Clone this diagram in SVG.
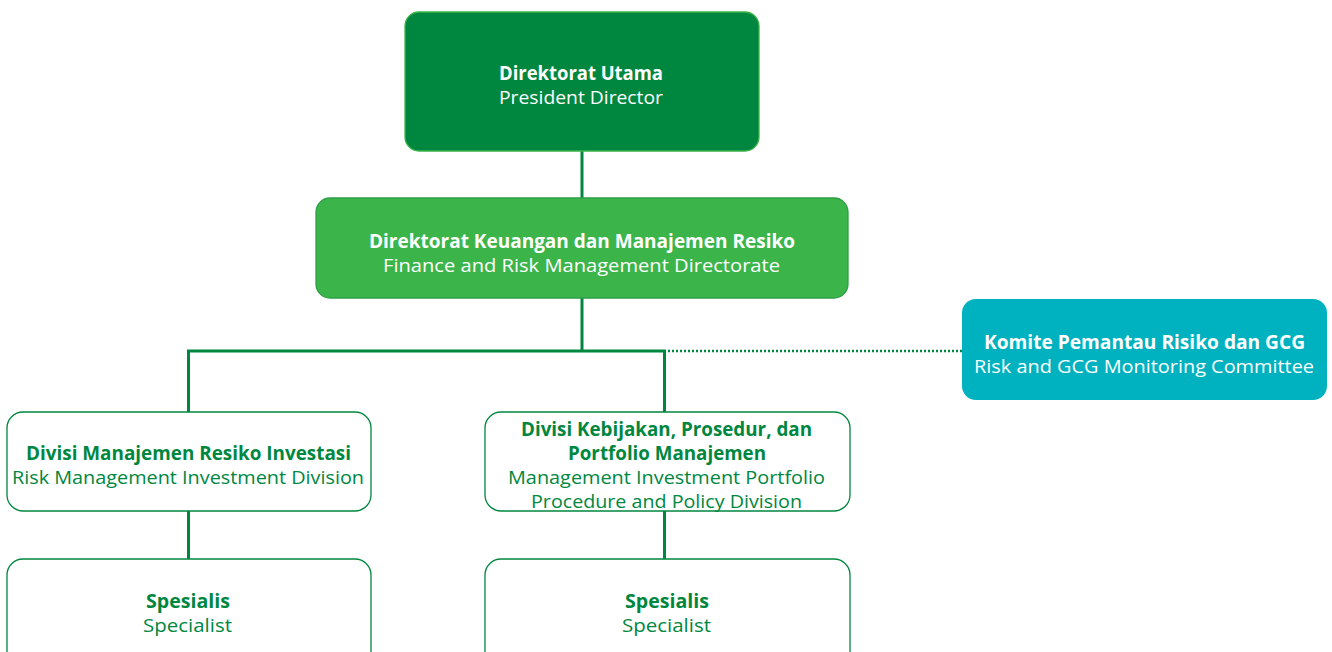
<svg xmlns="http://www.w3.org/2000/svg" width="1332" height="652" viewBox="0 0 1332 652">
<style>
text{font-family:"Open Sans","DejaVu Sans",sans-serif;font-size:19px;text-anchor:middle}
.b{font-weight:bold}
.w{fill:#ffffff}
.g{fill:#00873f}
.box{fill:#ffffff;stroke:#00873f;stroke-width:1.3}
.ln{stroke:#00873f;stroke-width:3;fill:none}
.dot{stroke:#00873f;stroke-width:2.5;fill:none;stroke-dasharray:2 2}
</style>
<rect width="1332" height="652" fill="#ffffff"/>
<g id="connectors">
<line class="ln" x1="582" y1="151" x2="582" y2="198"/>
<line class="ln" x1="582" y1="298" x2="582" y2="351"/>
<line class="ln" x1="187" y1="351" x2="666" y2="351"/>
<line class="ln" x1="188.5" y1="351" x2="188.5" y2="412"/>
<line class="ln" x1="664.5" y1="351" x2="664.5" y2="412"/>
<line class="dot" x1="668" y1="351" x2="962" y2="351"/>
<line class="ln" x1="188.5" y1="511" x2="188.5" y2="559"/>
<line class="ln" x1="664.5" y1="511" x2="664.5" y2="559"/>
</g>
<g id="president">
<rect x="405" y="12" width="354" height="139" rx="14" fill="#00873f" stroke="#3bb54a" stroke-width="1.3"/>
<text class="b w" x="581" y="80" textLength="164" lengthAdjust="spacingAndGlyphs">Direktorat Utama</text>
<text class="w" x="581" y="104" textLength="164" lengthAdjust="spacingAndGlyphs">President Director</text>
</g>
<g id="finance">
<rect x="316" y="198" width="532" height="100" rx="14" fill="#3bb54a" stroke="#2f9e45" stroke-width="1.3"/>
<text class="b w" x="582" y="248" textLength="426" lengthAdjust="spacingAndGlyphs">Direktorat Keuangan dan Manajemen Resiko</text>
<text class="w" x="581.5" y="272" textLength="397" lengthAdjust="spacingAndGlyphs">Finance and Risk Management Directorate</text>
</g>
<g id="committee">
<rect x="962" y="299" width="365" height="101" rx="14" fill="#00b2bf"/>
<text class="b w" x="1144.5" y="349" textLength="321" lengthAdjust="spacingAndGlyphs">Komite Pemantau Risiko dan GCG</text>
<text class="w" x="1144" y="373" textLength="340" lengthAdjust="spacingAndGlyphs">Risk and GCG Monitoring Committee</text>
</g>
<g id="div-risk">
<rect class="box" x="7" y="412" width="364" height="99" rx="16"/>
<text class="b g" x="188.5" y="460" textLength="325" lengthAdjust="spacingAndGlyphs">Divisi Manajemen Resiko Investasi</text>
<text class="g" x="188" y="484" textLength="352" lengthAdjust="spacingAndGlyphs">Risk Management Investment Division</text>
</g>
<g id="div-policy">
<rect class="box" x="485" y="412" width="365" height="99" rx="16"/>
<text class="b g" x="666.5" y="436" textLength="291" lengthAdjust="spacingAndGlyphs">Divisi Kebijakan, Prosedur, dan</text>
<text class="b g" x="667" y="460" textLength="198" lengthAdjust="spacingAndGlyphs">Portfolio Manajemen</text>
<text class="g" x="666.5" y="484" textLength="317" lengthAdjust="spacingAndGlyphs">Management Investment Portfolio</text>
<text class="g" x="666.5" y="508" textLength="271" lengthAdjust="spacingAndGlyphs">Procedure and Policy Division</text>
</g>
<g id="spec-left">
<rect class="box" x="7" y="559" width="364" height="110" rx="16"/>
<text class="b g" x="188" y="608" textLength="84" lengthAdjust="spacingAndGlyphs">Spesialis</text>
<text class="g" x="187.5" y="632" textLength="89" lengthAdjust="spacingAndGlyphs">Specialist</text>
</g>
<g id="spec-right">
<rect class="box" x="485" y="559" width="365" height="110" rx="16"/>
<text class="b g" x="667" y="608" textLength="84" lengthAdjust="spacingAndGlyphs">Spesialis</text>
<text class="g" x="666.5" y="632" textLength="89" lengthAdjust="spacingAndGlyphs">Specialist</text>
</g>
</svg>
